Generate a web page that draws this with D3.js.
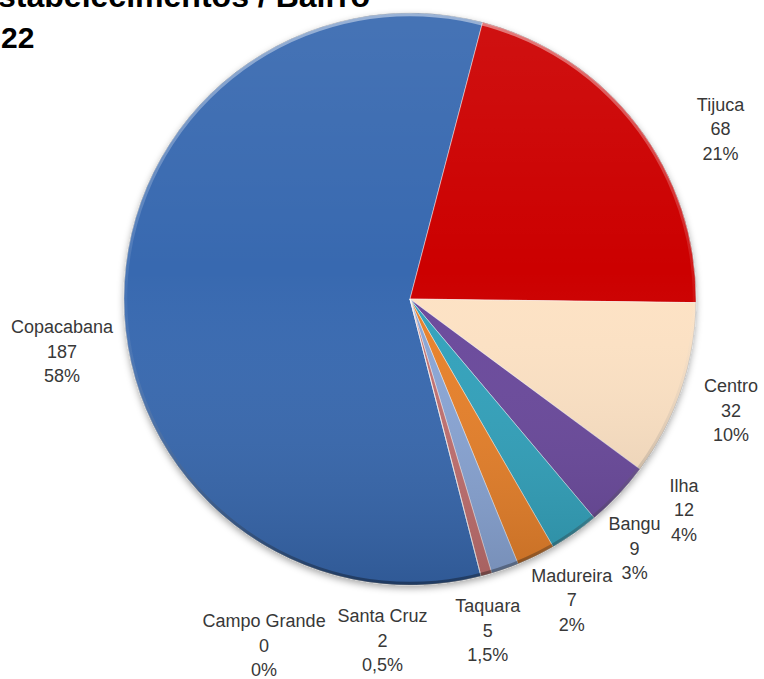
<!DOCTYPE html>
<html><head><meta charset="utf-8">
<script src="https://cdn.jsdelivr.net/npm/d3@7"></script>
<style>html,body{margin:0;padding:0;background:#fff;overflow:hidden}</style>
</head><body>
<svg id="chart" width="764" height="679"></svg>
<script>
// ---- data ----
const categories = ["Copacabana","Tijuca","Centro","Ilha","Bangu","Madureira","Taquara","Santa Cruz","Campo Grande"];
const values = [187,68,32,12,9,7,5,2,0];
const percentLabels = ["58%","21%","10%","4%","3%","2%","1,5%","0,5%","0%"];
const titleLines = ["stabelecimentos / Bairro","22"];
const colors = ["#3769B0","#CC0000","#FDE2C4","#6B4A9C","#32A2BC","#E8812B","#8AA6D6","#C2706F","#9BBB59"];

// ---- layout ----
const W = 764, H = 679, cx = 410, cy = 299, R = 286;
const secondSliceStartDeg = 14.7;
// label placement: [angle offset (deg) from slice centre, distance from pie centre]
const labelNudge = [[-8.8,352],[8.6,354],[0.6,340],[-5.6,346],[-6.9,336],[-2.1,342],[6.2,341],[20.1,343],[37.2,376]];
const lineGap = 24.5;

const svg = d3.select("#chart");
const defs = svg.append("defs");

const shadow = defs.append("filter").attr("id","shadow").attr("x","-20%").attr("y","-20%").attr("width","140%").attr("height","140%");
shadow.append("feDropShadow").attr("dx",0).attr("dy",3).attr("stdDeviation",3.5).attr("flood-color","#000").attr("flood-opacity",0.35);

const shade = defs.append("linearGradient").attr("id","shade").attr("x1",0).attr("y1",0).attr("x2",0).attr("y2",1);
shade.append("stop").attr("offset","0%").attr("stop-color","#fff").attr("stop-opacity",0.07);
shade.append("stop").attr("offset","45%").attr("stop-color","#fff").attr("stop-opacity",0);
shade.append("stop").attr("offset","100%").attr("stop-color","#000").attr("stop-opacity",0.15);

const rim = defs.append("linearGradient").attr("id","rim").attr("x1",0).attr("y1",0).attr("x2",0).attr("y2",1);
rim.append("stop").attr("offset","0%").attr("stop-color","#fff").attr("stop-opacity",0.45);
rim.append("stop").attr("offset","50%").attr("stop-color","#fff").attr("stop-opacity",0.05);
rim.append("stop").attr("offset","100%").attr("stop-color","#000").attr("stop-opacity",0.35);

const total = d3.sum(values);
const start = secondSliceStartDeg * Math.PI/180 - 2*Math.PI*values[0]/total;
const pie = d3.pie().sort(null).value(d => d).startAngle(start).endAngle(start + 2*Math.PI);
const arcs = pie(values);
const arc = d3.arc().innerRadius(0).outerRadius(R);

const g = svg.append("g").attr("transform", `translate(${cx},${cy})`);
const pieG = g.append("g").attr("filter","url(#shadow)");
pieG.selectAll("path.slice").data(arcs).join("path")
  .attr("class","slice")
  .attr("d", arc)
  .attr("fill", (d,i) => colors[i])
  .attr("stroke", "rgba(255,255,255,0.55)")
  .attr("stroke-width", 0.8)
  .attr("stroke-linejoin","round");

g.append("circle").attr("r", R).attr("fill","url(#shade)");
g.append("circle").attr("r", R-1.6).attr("fill","none").attr("stroke","url(#rim)").attr("stroke-width",3.2);
g.append("circle").attr("r", R).attr("fill","none").attr("stroke","rgba(0,0,0,0.18)").attr("stroke-width",0.8);

// labels
const font = "'Liberation Sans', Arial, sans-serif";
const lab = g.selectAll("g.label").data(arcs).join("g").attr("class","label")
  .attr("transform", (d,i) => {
    const a = (d.startAngle + d.endAngle)/2 + labelNudge[i][0]*Math.PI/180;
    const r = labelNudge[i][1];
    return `translate(${r*Math.sin(a)},${-r*Math.cos(a) + 6})`;
  });
lab.each(function(d,i){
  const t = d3.select(this).append("text")
    .attr("text-anchor","middle")
    .attr("font-family", font)
    .attr("font-size", 18)
    .attr("fill", "#383838");
  [categories[i], String(values[i]), percentLabels[i]].forEach((s,k) => {
    t.append("tspan").attr("x",0).attr("y",(k-1)*lineGap).text(s);
  });
});

// title (cropped in the reference)
svg.append("text").attr("x",-2).attr("y",7)
  .attr("font-family", font).attr("font-weight","bold").attr("font-size",31)
  .attr("fill","#000").attr("textLength",372).attr("lengthAdjust","spacingAndGlyphs")
  .text(titleLines[0]);
svg.append("text").attr("x",1).attr("y",48)
  .attr("font-family", font).attr("font-weight","bold").attr("font-size",30)
  .attr("fill","#000")
  .text(titleLines[1]);
</script>
</body></html>
